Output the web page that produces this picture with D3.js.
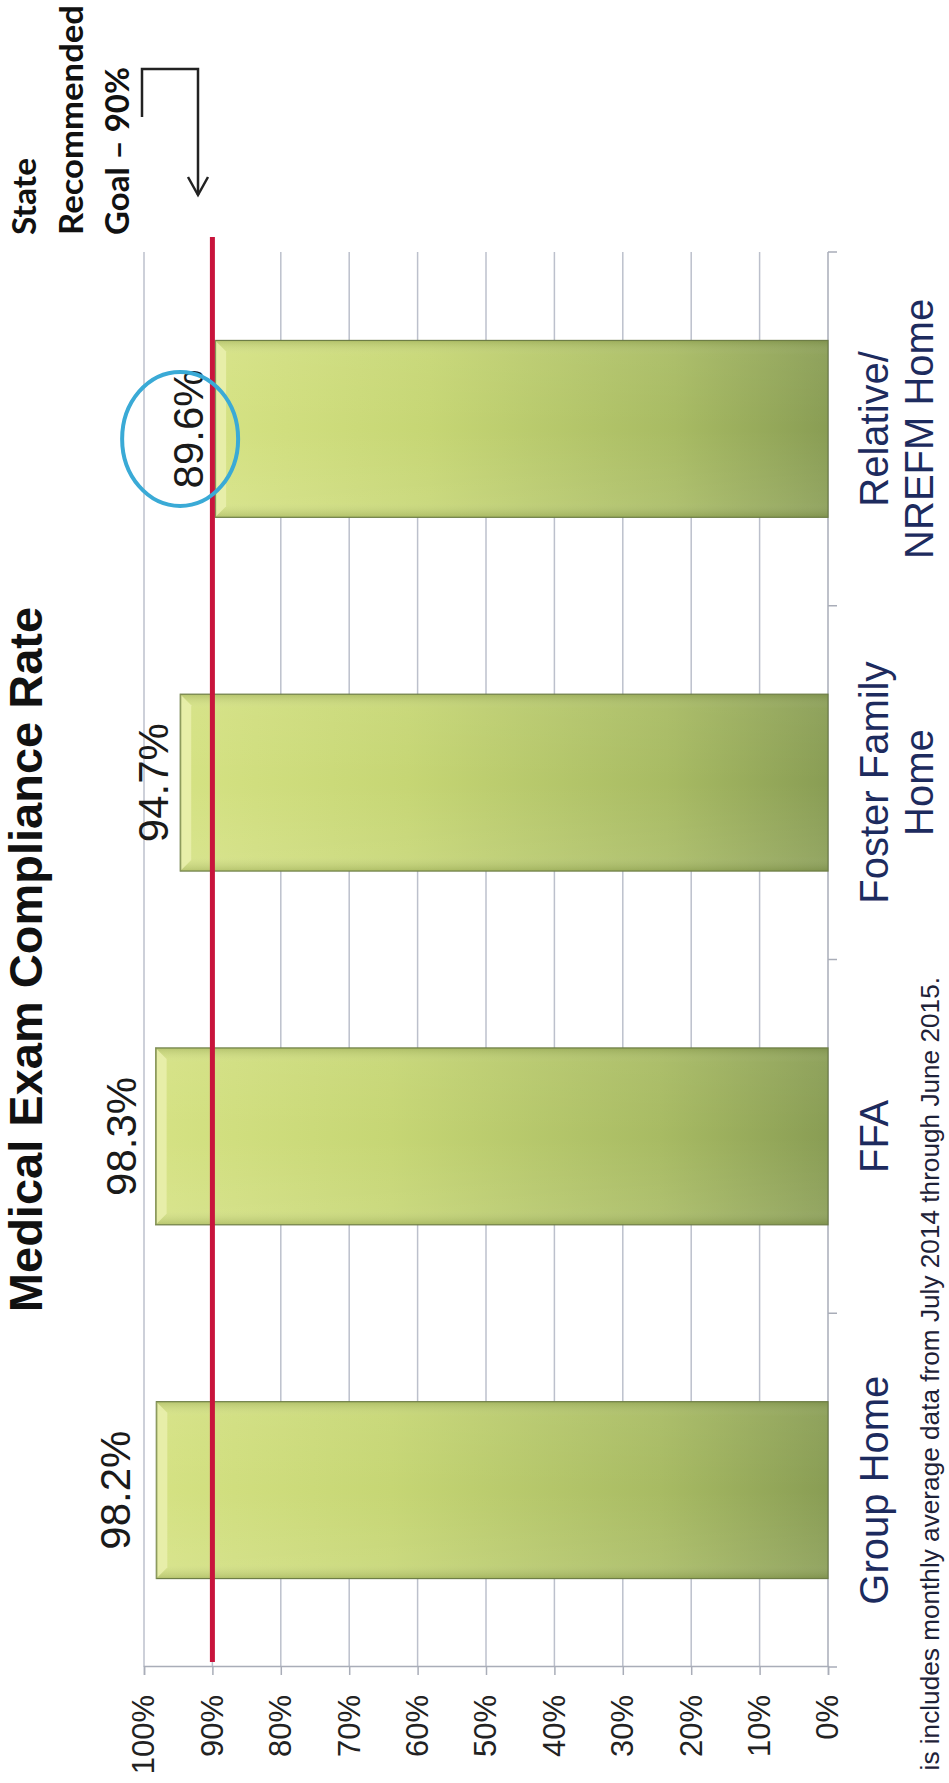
<!DOCTYPE html>
<html>
<head>
<meta charset="utf-8">
<script src="https://cdn.jsdelivr.net/npm/d3@7"></script>
<style>
  html, body { margin: 0; padding: 0; background: #ffffff; }
  svg { display: block; }
</style>
</head>
<body>
<svg id="chart" width="949" height="1783"></svg>
<script>
// Medical exam compliance by placement type (page is printed in landscape, turned on its side)
const categories = ["Group Home", "FFA", "Foster Family Home", "Relative/ NREFM Home"];
const categoryLines = [["Group Home"], ["FFA"], ["Foster Family", "Home"], ["Relative/", "NREFM Home"]];
const values = [98.2, 98.3, 94.7, 89.6];
const valueTicks = [0, 10, 20, 30, 40, 50, 60, 70, 80, 90, 100];
const goal = 90;
const titleText = "Medical Exam Compliance Rate";
const goalLines = ["State", "Recommended", "Goal \u2013 90%"];
const footnote = "is includes monthly average data from July 2014 through June 2015.";
const highlighted = "Relative/ NREFM Home";

const W = 949, H = 1783;
const svg = d3.select("#chart");

// Everything is laid out in landscape coordinates, then turned 90° counter-clockwise.
const page = svg.append("g").attr("transform", `translate(0,${H}) rotate(-90)`);

const plot = { left: 116, right: 1531, top: 144, bottom: 828 };

const x = d3.scaleBand()
  .domain(categories)
  .range([plot.left, plot.right])
  .paddingInner(0.5)
  .paddingOuter(0.25);

const y = d3.scaleLinear()
  .domain([0, 100])
  .range([plot.bottom, plot.top]);

// gradients for the bevelled bars
const defs = svg.append("defs");
const g1 = defs.append("linearGradient").attr("id", "barFill")
  .attr("x1", 0).attr("y1", 0).attr("x2", 0).attr("y2", 1);
g1.append("stop").attr("offset", "0%").attr("stop-color", "#d5e283");
g1.append("stop").attr("offset", "35%").attr("stop-color", "#c6d674");
g1.append("stop").attr("offset", "75%").attr("stop-color", "#a8bb63");
g1.append("stop").attr("offset", "100%").attr("stop-color", "#899d54");

const g2 = defs.append("linearGradient").attr("id", "barSide")
  .attr("x1", 0).attr("y1", 0).attr("x2", 1).attr("y2", 0);
g2.append("stop").attr("offset", "0%").attr("stop-color", "#5f6f35").attr("stop-opacity", 0.25);
g2.append("stop").attr("offset", "8%").attr("stop-color", "#ffffff").attr("stop-opacity", 0.08);
g2.append("stop").attr("offset", "50%").attr("stop-color", "#ffffff").attr("stop-opacity", 0.0);
g2.append("stop").attr("offset", "92%").attr("stop-color", "#ffffff").attr("stop-opacity", 0.05);
g2.append("stop").attr("offset", "100%").attr("stop-color", "#5f6f35").attr("stop-opacity", 0.25);

// gridlines
page.append("g")
  .selectAll("line")
  .data(valueTicks.filter(t => t > 0))
  .join("line")
  .attr("x1", plot.left).attr("x2", plot.right)
  .attr("y1", d => y(d)).attr("y2", d => y(d))
  .attr("stroke", "#bcc0cc").attr("stroke-width", 1.5);

// value axis (left in landscape)
const yAxis = page.append("g")
  .attr("transform", `translate(${plot.left},0)`)
  .call(d3.axisLeft(y).tickValues(valueTicks).tickFormat(d => d + "%").tickSize(8).tickPadding(20));
yAxis.select(".domain").attr("stroke", "#a9adb8").attr("stroke-width", 1.5);
yAxis.selectAll(".tick line").attr("stroke", "#a9adb8").attr("stroke-width", 1.5);
yAxis.selectAll(".tick text")
  .attr("font-family", "Liberation Sans, Arial, sans-serif")
  .attr("font-size", 31).attr("fill", "#222");

// category axis line with boundary ticks
const boundaryPos = categories.map(c => x(c) - x.step() * x.paddingInner() / 2)
  .concat([plot.right]);
boundaryPos[0] = plot.left;
page.append("line")
  .attr("x1", plot.left).attr("x2", plot.right)
  .attr("y1", plot.bottom).attr("y2", plot.bottom)
  .attr("stroke", "#a9adb8").attr("stroke-width", 1.5);
page.append("g").selectAll("line")
  .data(boundaryPos)
  .join("line")
  .attr("x1", d => d).attr("x2", d => d)
  .attr("y1", plot.bottom).attr("y2", plot.bottom + 9)
  .attr("stroke", "#a9adb8").attr("stroke-width", 1.5);

// bars
const bw = x.bandwidth();
const bevel = 11;
const bars = page.append("g").selectAll("g")
  .data(categories.map((c, i) => ({ c, v: values[i] })))
  .join("g");
bars.append("rect")
  .attr("x", d => x(d.c)).attr("y", d => y(d.v))
  .attr("width", bw).attr("height", d => y(0) - y(d.v))
  .attr("fill", "url(#barFill)");
bars.append("rect")
  .attr("x", d => x(d.c)).attr("y", d => y(d.v))
  .attr("width", bw).attr("height", d => y(0) - y(d.v))
  .attr("fill", "url(#barSide)")
  .attr("stroke", "#6d7d46").attr("stroke-width", 1.2);
bars.append("polygon")
  .attr("points", d => {
    const x0 = x(d.c), x1 = x0 + bw, t = y(d.v);
    return [[x0, t], [x1, t], [x1 - bevel, t + bevel], [x0 + bevel, t + bevel]].join(" ");
  })
  .attr("fill", "#eaf0ae").attr("opacity", 0.85);
bars.append("line")
  .attr("x1", d => x(d.c)).attr("x2", d => x(d.c) + bw)
  .attr("y1", d => y(d.v) + 0.5).attr("y2", d => y(d.v) + 0.5)
  .attr("stroke", "#7b8a4c").attr("stroke-width", 1);

// state goal line
page.append("line")
  .attr("x1", plot.left + 5).attr("x2", plot.right + 15)
  .attr("y1", y(goal)).attr("y2", y(goal))
  .attr("stroke", "#c8143c").attr("stroke-width", 5);

// value labels
const labelGap = [26, 20, 12, 12];
page.append("g").selectAll("text")
  .data(categories.map((c, i) => ({ c, v: values[i], gap: labelGap[i] })))
  .join("text")
  .attr("x", d => x(d.c) + bw / 2)
  .attr("y", d => y(d.v) - d.gap)
  .attr("text-anchor", "middle")
  .attr("font-family", "Liberation Sans, Arial, sans-serif")
  .attr("font-size", 42).attr("fill", "#1a1a1a")
  .text(d => d.v.toFixed(1) + "%");

// highlight ring around the lowest rate
const hi = categories.indexOf(highlighted);
page.append("ellipse")
  .attr("cx", x(highlighted) + bw / 2 - 10)
  .attr("cy", y(values[hi]) - 35)
  .attr("rx", 67).attr("ry", 58)
  .attr("fill", "none").attr("stroke", "#3aaad6").attr("stroke-width", 4);

// category labels
const catText = page.append("g").selectAll("text")
  .data(categories.map((c, i) => ({ c, lines: categoryLines[i] })))
  .join("text")
  .attr("text-anchor", "middle")
  .attr("font-family", "Liberation Sans, Arial, sans-serif")
  .attr("font-size", 40).attr("fill", "#1d2b5e");
catText.selectAll("tspan")
  .data(d => d.lines.map((l, j) => ({ l, j, c: d.c })))
  .join("tspan")
  .attr("x", d => x(d.c) + bw / 2)
  .attr("y", d => 888 + d.j * 45)
  .text(d => d.l);

// title
page.append("text")
  .attr("x", (plot.left + plot.right) / 2)
  .attr("y", 42)
  .attr("text-anchor", "middle")
  .attr("font-family", "Liberation Sans, Arial, sans-serif")
  .attr("font-weight", "bold")
  .attr("font-size", 47).attr("fill", "#111")
  .text(titleText);

// footnote along the page edge
page.append("text")
  .attr("x", 806).attr("y", 939)
  .attr("text-anchor", "end")
  .attr("font-family", "Liberation Sans, Arial, sans-serif")
  .attr("font-size", 26.2).attr("fill", "#1e2238")
  .text(footnote);

// goal note with bracket arrow pointing at the line
const noteLens = [77, 230, 168];
page.append("g").selectAll("text")
  .data(goalLines)
  .join("text")
  .attr("x", 1548)
  .attr("y", (d, i) => 36 + i * 46.5)
  .attr("font-family", "Lato, Open Sans, sans-serif")
  .attr("font-weight", "bold")
  .attr("font-size", 33).attr("fill", "#111")
  .attr("textLength", (d, i) => noteLens[i])
  .attr("lengthAdjust", "spacingAndGlyphs")
  .text(d => d);

page.append("path")
  .attr("d", "M1666,142 L1714,142 L1714,198 L1588,198")
  .attr("fill", "none").attr("stroke", "#222").attr("stroke-width", 2.5);
page.append("path")
  .attr("d", "M1606,188 L1588,198 L1606,208")
  .attr("fill", "none").attr("stroke", "#222").attr("stroke-width", 2.5);
</script>
</body>
</html>
